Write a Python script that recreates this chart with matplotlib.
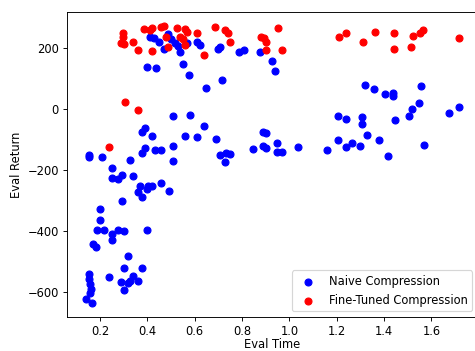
import matplotlib
matplotlib.use("Agg")
import matplotlib.pyplot as plt

# naive compression runs: (eval time, eval return)
naive_time = [
    0.411, 0.428, 0.447, 0.468, 0.487, 0.500, 0.517, 0.531, 0.538, 0.568,
    0.610, 0.622, 0.700, 0.707, 0.786, 0.806, 0.877, 0.927, 0.937, 0.399,
    0.437, 0.549, 0.577, 0.647, 0.717,
    1.318, 1.356, 1.405, 1.438, 1.438, 1.556, 1.206, 1.238, 1.308, 1.308,
    1.447, 1.507, 1.518, 1.547, 1.676, 1.717,
    0.507, 0.578, 0.638, 0.559, 0.609, 0.688, 0.378, 0.390, 0.421, 0.888,
    0.899, 0.888, 0.900, 0.948, 0.947, 0.968, 1.038, 1.159, 1.206, 1.238,
    1.266, 1.297, 1.326, 1.378, 1.416, 1.567, 0.389, 0.377, 0.430, 0.458,
    0.507, 0.846, 0.151, 0.151, 0.210, 0.249, 0.328, 0.507, 0.705, 0.731,
    0.750, 0.727,
    0.249, 0.277, 0.292, 0.341, 0.367, 0.401, 0.419, 0.358, 0.376, 0.399,
    0.459, 0.490, 0.291, 0.200, 0.200, 0.187, 0.216, 0.249, 0.249, 0.277,
    0.299, 0.399, 0.172, 0.181, 0.317, 0.299, 0.377, 0.151, 0.151, 0.158,
    0.161, 0.159, 0.139, 0.167, 0.239, 0.290, 0.316, 0.339, 0.362, 0.299,
    0.327,
]
naive_return = [
    237, 234, 221, 197, 246, 232, 218, 208, 189, 218,
    222, 212, 197, 205, 187, 196, 188, 160, 127, 139,
    136, 147, 114, 71, 95,
    79, 65, 51, 52, 44, 75, -24, -33, -25, -50,
    -36, -23, -1, 19, -14, 6,
    -24, -20, -57, -87, -90, -98, -74, -63, -87, -74,
    -80, -120, -128, -111, -142, -142, -126, -135, -101, -123,
    -111, -120, -84, -103, -155, -119, -128, -143, -134, -134,
    -122, -131, -151, -157, -157, -195, -167, -171, -152, -145,
    -149, -173,
    -226, -230, -216, -221, -252, -252, -254, -272, -290, -263,
    -242, -269, -303, -328, -364, -399, -396, -411, -431, -399,
    -401, -396, -442, -452, -483, -524, -524, -541, -558, -575,
    -590, -606, -623, -638, -553, -568, -572, -548, -566, -594,
    -566,
]

# fine-tuned compression runs
tuned_time = [
    0.296, 0.296, 0.289, 0.301, 0.340, 0.361, 0.386, 0.411, 0.420, 0.420,
    0.459, 0.468, 0.480, 0.488, 0.527, 0.558, 0.566, 0.538, 0.550, 0.558,
    0.608, 0.640, 0.687, 0.729, 0.740, 0.750, 0.880, 0.893, 0.899, 0.899,
    0.951, 0.970, 1.210, 1.240, 1.311, 1.360, 1.442, 1.442, 1.512, 1.523,
    1.552, 1.563, 1.718, 0.307, 0.361, 0.239,
]
tuned_return = [
    252, 239, 216, 215, 220, 195, 265, 262, 267, 190,
    269, 274, 236, 203, 268, 265, 254, 237, 230, 211,
    252, 179, 269, 260, 251, 222, 239, 234, 221, 196,
    266, 195, 238, 252, 220, 254, 251, 197, 206, 240,
    251, 260, 235, 23, -4, -126,
]

DPI = 83
fig = plt.figure(figsize=(475 / DPI, 351 / DPI), dpi=DPI)
ax = fig.add_axes([67 / 475, 34 / 351, 411 / 475, 305 / 351])

ax.scatter(naive_time, naive_return, color="blue", label="Naive Compression")
ax.scatter(tuned_time, tuned_return, color="red", label="Fine-Tuned Compression")

ax.set_xlabel("Eval Time", labelpad=0)
ax.set_ylabel("Eval Return")
ax.legend(loc="lower right")

fig.savefig("out.png", dpi=DPI)
